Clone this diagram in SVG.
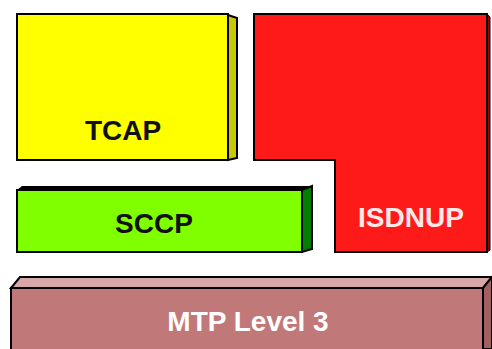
<svg xmlns="http://www.w3.org/2000/svg" width="492" height="349" viewBox="0 0 492 349">
<style>
.o{stroke:#000;stroke-width:2;stroke-linejoin:miter}
.t{font-family:"Liberation Sans",Arial,sans-serif;font-weight:bold;font-size:28px;text-anchor:middle}
</style>
<rect width="492" height="349" fill="#fff"/>
<g id="tcap">
<polygon points="228,15 237,18 237,158 228,160" fill="#c8c800" class="o" stroke-width="1.5"/>
<rect x="17" y="14" width="211" height="146" fill="#ffff00" class="o"/>
<text x="123" y="140" class="t" fill="#111">TCAP</text>
</g>
<g id="isdnup">
<polygon points="487,14 490,17 490,250 487,252" fill="#a00000" stroke="#000" stroke-width="1"/>
<polygon points="254,14 487,14 487,252 335,252 335,160 254,160" fill="#ff1a1a" class="o"/>
<text x="411" y="227" class="t" fill="#ffe8e8">ISDNUP</text>
</g>
<g id="sccp">
<polygon points="17,190 22,186 312,186 302,190" fill="#000"/>
<polygon points="302,190 312,186 312,249 302,252" fill="#008000" class="o" stroke-width="1.5"/>
<rect x="17" y="190" width="285" height="62" fill="#80ff00" class="o"/>
<text x="154" y="233" class="t" fill="#111">SCCP</text>
</g>
<g id="mtp">
<polygon points="11,288 20,277 492,277 483,288" fill="#d8a8a8" class="o"/>
<polygon points="483,288 492,277 492,349 483,349" fill="#a06060" class="o"/>
<rect x="11" y="288" width="472" height="63" fill="#c07878" class="o"/>
<text x="248" y="331" class="t" fill="#fff">MTP Level 3</text>
</g>
<g id="connectors"/>
</svg>
